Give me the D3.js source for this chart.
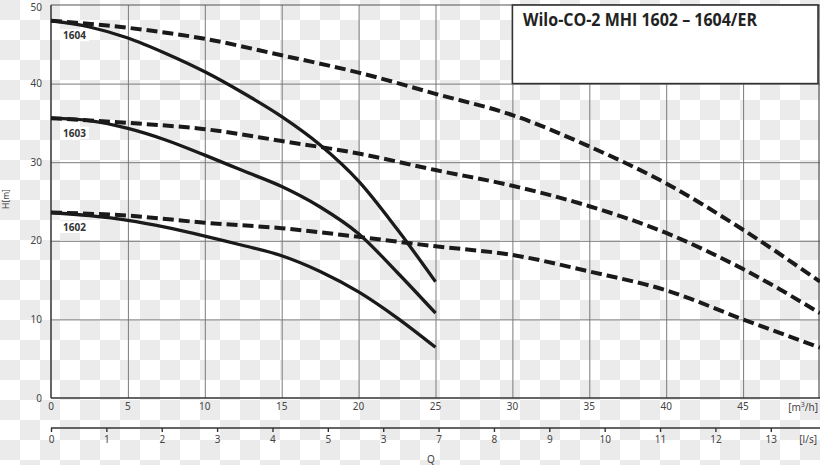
<!DOCTYPE html>
<html><head><meta charset="utf-8">
<script src="https://cdn.jsdelivr.net/npm/d3@7"></script>
<style>body{margin:0;background:#fff}svg{display:block}</style>
</head><body>
<svg id="c" width="820" height="465"></svg>
<script>
// ---- data ----
const pumpFlow = [0, 2.5, 5, 7.5, 10, 12.5, 15, 17.5, 20, 22.5, 25];           // m3/h
const pump1604 = [48.0, 47.2, 45.8, 43.8, 41.5, 38.8, 35.8, 32.2, 27.6, 21.5, 14.8];
const pump1603 = [35.6, 35.3, 34.3, 32.8, 30.9, 28.9, 26.9, 24.3, 20.9, 16.0, 10.8];
const pump1602 = [23.6, 23.2, 22.6, 21.7, 20.6, 19.4, 18.1, 16.1, 13.5, 10.2, 6.45];
const systemFlow = [0, 5, 10, 15, 20, 25, 30, 35, 40, 45, 50];               // m3/h
const system1604 = [48.0, 47.1, 45.7, 43.6, 41.4, 38.7, 36.0, 32.0, 27.3, 21.4, 14.8];
const system1603 = [35.6, 35.0, 34.2, 32.7, 31.1, 29.0, 27.0, 24.4, 21.0, 16.4, 10.8];
const system1602 = [23.6, 23.2, 22.3, 21.6, 20.5, 19.3, 18.2, 16.1, 13.7, 10.0, 6.4];
const seriesNames = ["1604", "1603", "1602"];
const xTicks = [0, 5, 10, 15, 20, 25, 30, 35, 40, 45];
const yTicks = [0, 10, 20, 30, 40, 50];
const lsTicks = [0, 1, 2, 3, 4, 5, 6, 7, 8, 9, 10, 11, 12, 13];
const lsTickLabels = ["0", "1", "2", "3", "4", "5", "3", "7", "8", "9", "10", "11", "12", "13"];
const title = "Wilo-CO-2 MHI 1602 – 1604/ER";

// ---- layout ----
const svg = d3.select("#c");
const L = 51, R = 820, T = 5, B = 398;
const x = d3.scaleLinear().domain([0, 50]).range([L, R]);
const y = d3.scaleLinear().domain([0, 50]).range([B, T]);
const xl = d3.scaleLinear().domain([0, 50 / 3.6]).range([L, R]);
const font = "'Noto Sans', 'DejaVu Sans', sans-serif";

// checkerboard background
const defs = svg.append("defs");
const pat = defs.append("pattern").attr("id", "chk").attr("width", 40).attr("height", 40)
  .attr("patternUnits", "userSpaceOnUse");
pat.append("rect").attr("width", 40).attr("height", 40).attr("fill", "#ffffff");
pat.append("rect").attr("width", 20).attr("height", 20).attr("fill", "#ebebeb");
pat.append("rect").attr("x", 20).attr("y", 20).attr("width", 20).attr("height", 20).attr("fill", "#ebebeb");
svg.append("rect").attr("width", 820).attr("height", 465).attr("fill", "url(#chk)");

// grid via axes
const gx = svg.append("g").attr("transform", `translate(0,${B})`)
  .call(d3.axisBottom(x).tickValues(xTicks.filter(d => d > 0)).tickSize(-(B - T)).tickFormat(""));
gx.select(".domain").remove();
gx.selectAll("line").attr("stroke", "#7a7a7a").attr("stroke-width", 1);

const gy = svg.append("g").attr("transform", `translate(${L},0)`)
  .call(d3.axisLeft(y).tickValues(yTicks.filter(d => d > 0 && d < 50)).tickSize(-(R - L)).tickFormat(""));
gy.select(".domain").remove();
gy.selectAll("line").attr("stroke", "#7a7a7a").attr("stroke-width", 1);

// frame
svg.append("line").attr("x1", L).attr("x2", R).attr("y1", T).attr("y2", T).attr("stroke", "#555").attr("stroke-width", 1.2);
svg.append("line").attr("x1", R - 1).attr("x2", R - 1).attr("y1", T).attr("y2", B).attr("stroke", "#555").attr("stroke-width", 1.2);
svg.append("line").attr("x1", L).attr("x2", L).attr("y1", T).attr("y2", B).attr("stroke", "#333").attr("stroke-width", 1.5);
svg.append("line").attr("x1", L).attr("x2", R).attr("y1", B).attr("y2", B).attr("stroke", "#333").attr("stroke-width", 1.5);

// tick labels
svg.append("g").selectAll("text").data(yTicks).join("text")
  .attr("x", L - 9).attr("y", d => Math.max(y(d), 7.5)).attr("dy", "0.35em").attr("text-anchor", "end")
  .attr("font-family", font).attr("font-size", 10).attr("fill", "#444").text(d => d);
svg.append("g").selectAll("text").data(xTicks).join("text")
  .attr("x", d => x(d)).attr("y", 410).attr("text-anchor", "middle")
  .attr("font-family", font).attr("font-size", 10).attr("fill", "#444").text(d => d);
svg.append("text").attr("x", 818).attr("y", 411).attr("text-anchor", "end")
  .attr("font-family", font).attr("font-size", 10).attr("fill", "#444")
  .html("[m<tspan font-size='7' dy='-4'>3</tspan><tspan dy='4'>/h]</tspan>");

// secondary l/s axis
const gs = svg.append("g").attr("transform", "translate(0,428)")
  .call(d3.axisBottom(xl).tickValues(lsTicks).tickSize(4).tickSizeOuter(0)
    .tickFormat((d, i) => lsTickLabels[i]));
gs.select(".domain").attr("stroke", "#333").attr("stroke-width", 1.6).attr("d", `M${L},0H${R}`);
gs.selectAll(".tick line").attr("stroke", "#333").attr("stroke-width", 1.4);
gs.selectAll(".tick text").attr("y", 8).attr("font-family", font).attr("font-size", 10).attr("fill", "#444");
svg.append("text").attr("x", 817).attr("y", 443).attr("text-anchor", "end")
  .attr("font-family", font).attr("font-size", 10).attr("fill", "#444").text("[l/s]");
svg.append("text").attr("x", 431).attr("y", 463).attr("text-anchor", "middle")
  .attr("font-family", font).attr("font-size", 10).attr("fill", "#444").text("Q");
svg.append("text").attr("transform", "translate(9,199) rotate(-90)").attr("text-anchor", "middle")
  .attr("font-family", font).attr("font-size", 8.5).attr("fill", "#444").text("H[m]");

// title box
svg.append("rect").attr("x", x(30)).attr("y", y(50)).attr("width", R - 2 - x(30)).attr("height", y(40) - y(50))
  .attr("fill", "#fff").attr("stroke", "#333").attr("stroke-width", 1.6);
svg.append("text").attr("x", 523).attr("y", 26).attr("font-family", "'Open Sans', 'Noto Sans', sans-serif")
  .attr("font-weight", "bold").attr("font-size", 17).attr("fill", "#222")
  .attr("textLength", 234).attr("lengthAdjust", "spacingAndGlyphs").text(title);

// curves
const line = d3.line().x(d => x(d[0])).y(d => y(d[1])).curve(d3.curveMonotoneX);
const systems = [system1604, system1603, system1602];
const pumps = [pump1604, pump1603, pump1602];
systems.forEach(s => {
  svg.append("path").attr("d", line(systemFlow.map((q, i) => [q, s[i]])))
    .attr("fill", "none").attr("stroke", "#1a1a1a").attr("stroke-width", 4)
    .attr("stroke-dasharray", "11,5");
});
pumps.forEach(s => {
  svg.append("path").attr("d", line(pumpFlow.map((q, i) => [q, s[i]])))
    .attr("fill", "none").attr("stroke", "#1a1a1a").attr("stroke-width", 3.3);
});

// series labels
const labelH = [pump1604[0], pump1603[0], pump1602[0]];
seriesNames.forEach((n, i) => {
  const ly = y(labelH[i]) + 18.5;
  svg.append("rect").attr("x", 60).attr("y", ly - 10).attr("width", 29).attr("height", 12).attr("fill", "#fff");
  svg.append("text").attr("x", 63).attr("y", ly).attr("font-family", font).attr("font-weight", "bold")
    .attr("font-size", 10).attr("fill", "#333").text(n);
});
</script>
</body></html>
